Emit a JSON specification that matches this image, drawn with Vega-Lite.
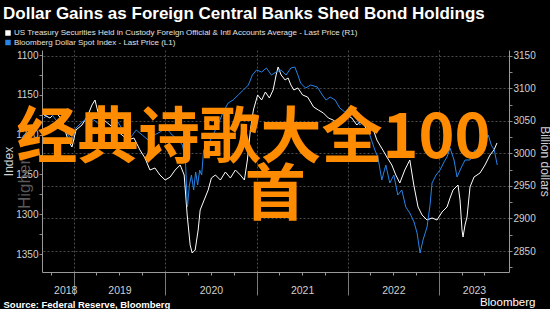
{
  "$schema": "https://vega.github.io/schema/vega-lite/v6.json",
  "width": 467,
  "height": 222,
  "autosize": {"type": "none"},
  "padding": {"left": 42, "top": 50, "right": 41, "bottom": 37},
  "background": "#000000",
  "config": {
    "view": {"stroke": null},
    "font": "Liberation Sans",
    "axis": {
      "domainColor": "#8c8c8c",
      "tickColor": "#8c8c8c",
      "labelColor": "#d0d0d0",
      "labelFont": "Liberation Sans",
      "labelFontSize": 10,
      "titleColor": "#d0d0d0",
      "titleFont": "Liberation Sans",
      "titleFontWeight": "normal",
      "gridColor": "#4a4a4a",
      "gridDash": [2, 2]
    }
  },
  "title": {
    "text": "Dollar Gains as Foreign Central Banks Shed Bond Holdings",
    "anchor": "start",
    "frame": "group",
    "dx": -39,
    "dy": 17,
    "offset": 10,
    "baseline": "alphabetic",
    "font": "Liberation Sans",
    "fontSize": 17,
    "fontWeight": "bold",
    "color": "#ffffff"
  },
  "datasets": {
    "ust": [
      {"date": "2018-09-03", "value": 3059.2}, {"date": "2018-09-27", "value": 3054.6}, {"date": "2018-10-21", "value": 3063.8}, {"date": "2018-11-14", "value": 3051.5}, {"date": "2018-12-08", "value": 3020.8}, {"date": "2018-12-24", "value": 3010.0},
      {"date": "2019-01-09", "value": 3036.2}, {"date": "2019-02-02", "value": 3043.8}, {"date": "2019-02-26", "value": 3059.2}, {"date": "2019-03-14", "value": 3074.6}, {"date": "2019-03-26", "value": 3082.3}, {"date": "2019-04-07", "value": 3063.8}, {"date": "2019-05-01", "value": 3051.5}, {"date": "2019-05-25", "value": 3043.8}, {"date": "2019-06-18", "value": 3036.2}, {"date": "2019-07-12", "value": 3028.5}, {"date": "2019-08-05", "value": 3020.8}, {"date": "2019-08-29", "value": 3023.8}, {"date": "2019-09-22", "value": 3005.4}, {"date": "2019-10-12", "value": 2993.1}, {"date": "2019-11-01", "value": 2974.6}, {"date": "2019-11-21", "value": 2977.7}, {"date": "2019-12-11", "value": 2966.9},
      {"date": "2020-01-01", "value": 2959.2}, {"date": "2020-01-21", "value": 2963.8}, {"date": "2020-02-10", "value": 2974.6}, {"date": "2020-03-01", "value": 2982.3}, {"date": "2020-03-17", "value": 2966.9}, {"date": "2020-03-29", "value": 2905.4}, {"date": "2020-04-10", "value": 2859.2}, {"date": "2020-04-18", "value": 2846.9}, {"date": "2020-04-30", "value": 2851.5}, {"date": "2020-05-12", "value": 2882.3}, {"date": "2020-05-20", "value": 2913.1}, {"date": "2020-06-05", "value": 2928.5}, {"date": "2020-06-21", "value": 2943.8}, {"date": "2020-07-04", "value": 2962.3}, {"date": "2020-07-20", "value": 2966.9}, {"date": "2020-08-09", "value": 2959.2}, {"date": "2020-08-29", "value": 2971.5}, {"date": "2020-09-18", "value": 2962.3}, {"date": "2020-10-08", "value": 2974.6}, {"date": "2020-10-28", "value": 2966.9}, {"date": "2020-11-13", "value": 2959.2}, {"date": "2020-11-25", "value": 2990.0}, {"date": "2020-12-07", "value": 3036.2}, {"date": "2020-12-19", "value": 3066.9},
      {"date": "2021-01-05", "value": 3090.0}, {"date": "2021-01-21", "value": 3082.3}, {"date": "2021-02-05", "value": 3094.6}, {"date": "2021-02-21", "value": 3085.4}, {"date": "2021-03-08", "value": 3097.7}, {"date": "2021-03-20", "value": 3120.8}, {"date": "2021-03-28", "value": 3133.1}, {"date": "2021-04-09", "value": 3120.8}, {"date": "2021-04-25", "value": 3113.1}, {"date": "2021-05-07", "value": 3116.2}, {"date": "2021-05-18", "value": 3105.4}, {"date": "2021-05-30", "value": 3097.7}, {"date": "2021-06-15", "value": 3100.8}, {"date": "2021-07-04", "value": 3090.0}, {"date": "2021-07-24", "value": 3086.9}, {"date": "2021-08-17", "value": 3071.5}, {"date": "2021-09-05", "value": 3066.9}, {"date": "2021-09-25", "value": 3062.3}, {"date": "2021-10-15", "value": 3054.6}, {"date": "2021-11-03", "value": 3051.5}, {"date": "2021-11-19", "value": 3046.9}, {"date": "2021-12-08", "value": 3051.5}, {"date": "2021-12-28", "value": 3059.2},
      {"date": "2022-01-17", "value": 3054.6}, {"date": "2022-02-06", "value": 3043.8}, {"date": "2022-02-26", "value": 3051.5}, {"date": "2022-03-18", "value": 3036.2}, {"date": "2022-04-07", "value": 3043.8}, {"date": "2022-04-27", "value": 3020.8}, {"date": "2022-05-21", "value": 3005.4}, {"date": "2022-06-06", "value": 2994.6}, {"date": "2022-06-26", "value": 2982.3}, {"date": "2022-07-12", "value": 2966.9}, {"date": "2022-07-28", "value": 2954.6}, {"date": "2022-08-17", "value": 2974.6}, {"date": "2022-09-06", "value": 2990.0}, {"date": "2022-09-22", "value": 2951.5}, {"date": "2022-10-09", "value": 2917.7}, {"date": "2022-10-25", "value": 2905.4}, {"date": "2022-11-14", "value": 2897.7}, {"date": "2022-12-04", "value": 2900.8}, {"date": "2022-12-24", "value": 2897.7},
      {"date": "2023-01-13", "value": 2910.0}, {"date": "2023-02-02", "value": 2917.7}, {"date": "2023-02-14", "value": 2931.5}, {"date": "2023-02-26", "value": 2943.8}, {"date": "2023-03-10", "value": 2948.5}, {"date": "2023-03-18", "value": 2951.5}, {"date": "2023-03-26", "value": 2928.5}, {"date": "2023-04-03", "value": 2882.3}, {"date": "2023-04-07", "value": 2871.5}, {"date": "2023-04-15", "value": 2890.0}, {"date": "2023-04-23", "value": 2902.3}, {"date": "2023-05-05", "value": 2948.5}, {"date": "2023-05-21", "value": 2963.8}, {"date": "2023-06-14", "value": 2970.0}, {"date": "2023-07-04", "value": 2982.3}, {"date": "2023-07-24", "value": 2997.7}, {"date": "2023-08-09", "value": 3005.4}, {"date": "2023-08-21", "value": 3016.2}
    ],
    "dxy": [
      {"date": "2018-09-03", "value": 1179.1}, {"date": "2018-09-27", "value": 1171.6}, {"date": "2018-10-21", "value": 1181.7}, {"date": "2018-11-14", "value": 1187.9}, {"date": "2018-12-08", "value": 1200.5}, {"date": "2018-12-24", "value": 1206.8},
      {"date": "2019-01-09", "value": 1191.7}, {"date": "2019-02-02", "value": 1184.2}, {"date": "2019-02-26", "value": 1179.1}, {"date": "2019-03-22", "value": 1181.7}, {"date": "2019-04-15", "value": 1187.9}, {"date": "2019-05-09", "value": 1194.2}, {"date": "2019-06-02", "value": 1191.7}, {"date": "2019-06-26", "value": 1184.2}, {"date": "2019-07-20", "value": 1196.7}, {"date": "2019-08-14", "value": 1204.3}, {"date": "2019-09-07", "value": 1194.2}, {"date": "2019-10-01", "value": 1200.5}, {"date": "2019-10-25", "value": 1206.8}, {"date": "2019-11-18", "value": 1200.5}, {"date": "2019-12-12", "value": 1196.7},
      {"date": "2020-01-05", "value": 1191.7}, {"date": "2020-01-29", "value": 1200.5}, {"date": "2020-02-23", "value": 1206.8}, {"date": "2020-03-10", "value": 1213.1}, {"date": "2020-03-22", "value": 1231.9}, {"date": "2020-03-30", "value": 1291.0}, {"date": "2020-04-07", "value": 1263.3}, {"date": "2020-04-15", "value": 1250.8}, {"date": "2020-04-24", "value": 1269.6}, {"date": "2020-05-02", "value": 1247.0}, {"date": "2020-05-10", "value": 1263.3}, {"date": "2020-05-18", "value": 1244.5}, {"date": "2020-05-26", "value": 1250.8}, {"date": "2020-06-03", "value": 1219.3}, {"date": "2020-06-20", "value": 1213.1}, {"date": "2020-07-10", "value": 1200.5}, {"date": "2020-07-30", "value": 1187.9}, {"date": "2020-08-20", "value": 1171.6}, {"date": "2020-09-09", "value": 1160.3}, {"date": "2020-09-29", "value": 1156.5}, {"date": "2020-10-19", "value": 1150.3}, {"date": "2020-11-09", "value": 1144.0}, {"date": "2020-11-29", "value": 1137.7}, {"date": "2020-12-15", "value": 1125.1},
      {"date": "2021-01-01", "value": 1118.8}, {"date": "2021-01-21", "value": 1121.4}, {"date": "2021-02-09", "value": 1116.3}, {"date": "2021-03-01", "value": 1125.1}, {"date": "2021-03-20", "value": 1121.4}, {"date": "2021-04-09", "value": 1118.8}, {"date": "2021-04-29", "value": 1125.1}, {"date": "2021-05-18", "value": 1116.3}, {"date": "2021-06-03", "value": 1115.1}, {"date": "2021-06-15", "value": 1125.1}, {"date": "2021-06-26", "value": 1135.2}, {"date": "2021-07-16", "value": 1141.5}, {"date": "2021-08-05", "value": 1137.7}, {"date": "2021-09-01", "value": 1140.2}, {"date": "2021-09-21", "value": 1150.3}, {"date": "2021-10-06", "value": 1156.5}, {"date": "2021-10-22", "value": 1152.8}, {"date": "2021-11-11", "value": 1156.5}, {"date": "2021-11-30", "value": 1166.6}, {"date": "2021-12-20", "value": 1171.6},
      {"date": "2022-01-09", "value": 1165.3}, {"date": "2022-01-29", "value": 1175.4}, {"date": "2022-02-18", "value": 1187.9}, {"date": "2022-03-10", "value": 1181.7}, {"date": "2022-03-30", "value": 1200.5}, {"date": "2022-04-19", "value": 1219.3}, {"date": "2022-05-01", "value": 1228.1}, {"date": "2022-05-17", "value": 1257.0}, {"date": "2022-06-02", "value": 1238.2}, {"date": "2022-06-18", "value": 1260.8}, {"date": "2022-07-04", "value": 1250.8}, {"date": "2022-07-20", "value": 1275.9}, {"date": "2022-08-05", "value": 1269.6}, {"date": "2022-08-21", "value": 1291.0}, {"date": "2022-09-06", "value": 1298.5}, {"date": "2022-09-23", "value": 1309.8}, {"date": "2022-10-05", "value": 1323.6}, {"date": "2022-10-17", "value": 1348.7}, {"date": "2022-10-29", "value": 1332.4}, {"date": "2022-11-14", "value": 1316.1}, {"date": "2022-11-26", "value": 1288.4}, {"date": "2022-12-04", "value": 1260.8}, {"date": "2022-12-20", "value": 1250.8},
      {"date": "2023-01-05", "value": 1244.5}, {"date": "2023-01-21", "value": 1234.4}, {"date": "2023-02-02", "value": 1228.1}, {"date": "2023-02-14", "value": 1216.8}, {"date": "2023-03-02", "value": 1231.9}, {"date": "2023-03-14", "value": 1253.3}, {"date": "2023-03-30", "value": 1242.0}, {"date": "2023-04-15", "value": 1231.9}, {"date": "2023-05-05", "value": 1231.9}, {"date": "2023-05-25", "value": 1219.3}, {"date": "2023-06-14", "value": 1219.3}, {"date": "2023-06-30", "value": 1213.1}, {"date": "2023-07-17", "value": 1200.5}, {"date": "2023-07-29", "value": 1213.1}, {"date": "2023-08-10", "value": 1219.3}, {"date": "2023-08-22", "value": 1238.2}
    ]
  },
  "resolve": {"scale": {"y": "independent"}, "axis": {"x": "independent", "y": "independent"}},
  "layer": [
    {
      "data": {"name": "ust"},
      "mark": {"type": "line", "strokeWidth": 1, "interpolate": "linear"},
      "encoding": {
        "x": {
          "field": "date", "type": "temporal",
          "scale": {"type": "utc", "domain": [{"year": 2018, "month": 8, "date": 26, "utc": true}, {"year": 2023, "month": 10, "date": 8, "utc": true}]},
          "axis": {
            "orient": "bottom",
            "values": [{"year": 2019, "month": 1, "date": 1, "utc": true}, {"year": 2020, "month": 1, "date": 1, "utc": true}, {"year": 2021, "month": 1, "date": 1, "utc": true}, {"year": 2022, "month": 1, "date": 1, "utc": true}, {"year": 2023, "month": 1, "date": 1, "utc": true}],
            "labels": false, "tickSize": 23, "tickColor": "#7a7a7a", "grid": true, "domain": true, "domainColor": "#9a9a9a",
            "title": "Bloomberg", "titleX": 493, "titleY": 33, "titleAlign": "right", "titleBaseline": "alphabetic", "titleAngle": 0,
            "titleColor": "#ffffff", "titleFontSize": 11.5, "titleFontWeight": "normal"
          }
        },
        "y": {
          "field": "value", "type": "quantitative",
          "scale": {"domain": [2817.7, 3159.2], "zero": false, "nice": false},
          "axis": {
            "orient": "right", "values": [2825, 2850, 2875, 2900, 2925, 2950, 2975, 3000, 3025, 3050, 3075, 3100, 3125, 3150],
            "format": "d", "labelExpr": "datum.value % 50 == 0 ? datum.label : ''",
            "tickSize": 3, "labelPadding": 1, "domainColor": "#9a9a9a",
            "grid": true, "gridOpacity": {"condition": {"test": "datum.value % 50 == 0", "value": 1}, "value": 0},
            "title": "Billion dollars", "titleFontSize": 12, "titleAngle": 90, "titleX": 35, "titleY": 111, "titleBaseline": "middle", "titleAlign": "center"
          }
        },
        "color": {
          "datum": "US Treasury Securities Held in Custody Foreign Official & Intl Accounts Average - Last Price (R1)",
          "scale": {"domain": ["US Treasury Securities Held in Custody Foreign Official & Intl Accounts Average - Last Price (R1)", "Bloomberg Dollar Spot Index - Last Price (L1)"], "range": ["#ffffff", "#2684e8"]},
          "legend": {
            "orient": "none", "legendX": -38, "legendY": -21, "title": null, "direction": "vertical",
            "symbolType": "square", "symbolSize": 30, "symbolStrokeWidth": 0,
            "labelFont": "Liberation Sans", "labelFontSize": 8, "labelColor": "#e0e0e0", "labelLimit": 600,
            "rowPadding": 1.5, "padding": 0, "labelOffset": 2,
            "encode": {"symbols": {"update": {"fill": {"scale": "color", "field": "value"}, "opacity": {"value": 1}}}}
          }
        }
      }
    },
    {
      "data": {"name": "dxy"},
      "mark": {"type": "line", "strokeWidth": 1, "interpolate": "linear"},
      "encoding": {
        "x": {
          "field": "date", "type": "temporal",
          "scale": {"type": "utc", "domain": [{"year": 2018, "month": 8, "date": 26, "utc": true}, {"year": 2023, "month": 10, "date": 8, "utc": true}]},
          "axis": {
            "orient": "bottom",
            "values": [
              {"year": 2018, "month": 10, "date": 1, "utc": true}, {"year": 2018, "month": 11, "date": 27, "utc": true},
              {"year": 2019, "month": 4, "date": 1, "utc": true}, {"year": 2019, "month": 7, "date": 1, "utc": true}, {"year": 2019, "month": 7, "date": 2, "utc": true}, {"year": 2019, "month": 10, "date": 1, "utc": true},
              {"year": 2020, "month": 4, "date": 1, "utc": true}, {"year": 2020, "month": 7, "date": 1, "utc": true}, {"year": 2020, "month": 7, "date": 2, "utc": true}, {"year": 2020, "month": 10, "date": 1, "utc": true},
              {"year": 2021, "month": 4, "date": 1, "utc": true}, {"year": 2021, "month": 7, "date": 1, "utc": true}, {"year": 2021, "month": 7, "date": 2, "utc": true}, {"year": 2021, "month": 10, "date": 1, "utc": true},
              {"year": 2022, "month": 4, "date": 1, "utc": true}, {"year": 2022, "month": 7, "date": 1, "utc": true}, {"year": 2022, "month": 7, "date": 2, "utc": true}, {"year": 2022, "month": 10, "date": 1, "utc": true},
              {"year": 2023, "month": 4, "date": 1, "utc": true}, {"year": 2023, "month": 5, "date": 21, "utc": true}, {"year": 2023, "month": 7, "date": 1, "utc": true}
            ],
            "domain": false, "grid": false, "tickSize": 3, "tickColor": "#9a9a9a",
            "tickOpacity": {"condition": {"test": "utcdate(datum.value) == 1", "value": 1}, "value": 0},
            "labelExpr": "utcdate(datum.value) == 1 ? '' : utcFormat(datum.value, '%Y')",
            "labelPadding": 10, "labelFontSize": 10.5, "labelColor": "#d0d0d0", "labelOverlap": false, "labelFlush": false,
            "title": "Source: Federal Reserve, Bloomberg", "titleX": -39, "titleY": 35, "titleAlign": "left", "titleBaseline": "alphabetic",
            "titleColor": "#ffffff", "titleFontSize": 9.5, "titleFontWeight": "bold"
          }
        },
        "y": {
          "field": "value", "type": "quantitative",
          "scale": {"domain": [1093.7, 1372.6], "reverse": true, "zero": false, "nice": false},
          "axis": {
            "orient": "left", "values": [1100, 1125, 1150, 1175, 1200, 1225, 1250, 1275, 1300, 1325, 1350],
            "format": "d", "labelExpr": "datum.value % 50 == 0 ? datum.label : ''",
            "tickSize": 3, "labelPadding": 1, "grid": false, "domainColor": "#9a9a9a",
            "title": "Index", "titleFontSize": 12, "titleX": -34, "titleY": 111, "titleAngle": 270, "titleBaseline": "middle", "titleAlign": "center"
          }
        },
        "color": {"datum": "Bloomberg Dollar Spot Index - Last Price (L1)"}
      }
    },
    {
      "data": {"values": [{}]},
      "mark": {"type": "text", "text": "Higher", "angle": 270, "font": "Liberation Sans", "fontSize": 17, "color": "#5a5a5a", "align": "center", "baseline": "middle"},
      "encoding": {
        "x": {"datum": {"year": 2018, "month": 6, "date": 19, "utc": true}, "type": "temporal", "scale": {"type": "utc", "domain": [{"year": 2018, "month": 8, "date": 26, "utc": true}, {"year": 2023, "month": 10, "date": 8, "utc": true}]}, "axis": null},
        "y": {"datum": 1262, "type": "quantitative", "scale": {"domain": [1093.7, 1372.6], "reverse": true, "zero": false, "nice": false}, "axis": null}
      }
    },
    {
      "data": {"values": [{}]},
      "mark": {"type": "text", "text": "经典诗歌大全100", "font": "Noto Sans CJK SC", "fontSize": 61, "fontWeight": "bold", "color": "#ff8c00", "align": "center", "baseline": "middle"},
      "encoding": {
        "x": {"datum": {"year": 2020, "month": 12, "date": 19, "utc": true}, "type": "temporal", "scale": {"type": "utc", "domain": [{"year": 2018, "month": 8, "date": 26, "utc": true}, {"year": 2023, "month": 10, "date": 8, "utc": true}]}, "axis": null},
        "y": {"datum": 1206.8, "type": "quantitative", "scale": {"domain": [1093.7, 1372.6], "reverse": true, "zero": false, "nice": false}, "axis": null}
      }
    },
    {
      "data": {"values": [{}]},
      "mark": {"type": "text", "text": "首", "font": "Noto Sans CJK SC", "fontSize": 61, "fontWeight": "bold", "color": "#ff8c00", "align": "center", "baseline": "middle"},
      "encoding": {
        "x": {"datum": {"year": 2021, "month": 3, "date": 16, "utc": true}, "type": "temporal", "scale": {"type": "utc", "domain": [{"year": 2018, "month": 8, "date": 26, "utc": true}, {"year": 2023, "month": 10, "date": 8, "utc": true}]}, "axis": null},
        "y": {"datum": 1278.4, "type": "quantitative", "scale": {"domain": [1093.7, 1372.6], "reverse": true, "zero": false, "nice": false}, "axis": null}
      }
    }
  ]
}
